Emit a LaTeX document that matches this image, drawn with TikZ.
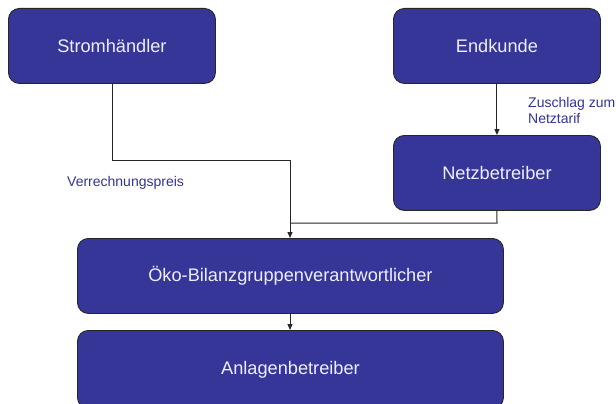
\documentclass[tikz,border=0pt]{standalone}
\usepackage{fontspec}
\setmainfont{Liberation Sans}
\usetikzlibrary{arrows.meta}
\definecolor{boxblue}{RGB}{54,54,152}
\definecolor{boxtext}{RGB}{238,238,255}
\definecolor{labelblue}{RGB}{51,51,153}
\tikzset{
  actor/.style={draw=black!85, line width=0.9pt, fill=boxblue, rounded corners=11pt,
    text=boxtext, font=\fontsize{18.2}{20}\selectfont, anchor=north west, inner sep=0pt,
    align=center},
  flow/.style={draw=black!85, line width=1pt},
  flowarrow/.style={flow, -{Triangle[length=6pt,width=5pt]}},
  lbl/.style={text=labelblue, font=\fontsize{14}{16}\selectfont, inner sep=0pt, align=left}
}
\begin{document}
\begin{tikzpicture}[x=1pt,y=-1pt]
\useasboundingbox (0,0) rectangle (616,404);
\node[actor, minimum width=207pt, minimum height=75pt] (strom) at (8,8) {Stromhändler};
\node[actor, minimum width=207pt, minimum height=75pt] (end) at (393,8) {Endkunde};
\node[actor, minimum width=207pt, minimum height=75pt] (netz) at (393,135) {Netzbetreiber};
\node[actor, minimum width=426pt, minimum height=75pt] (oeko) at (77,238) {Öko-Bilanzgruppenverantwortlicher};
\node[actor, minimum width=426pt, minimum height=78pt] (anl) at (77,330) {Anlagenbetreiber};
\coordinate (j1) at (112,160);
\coordinate (j2) at (290,160);
\coordinate (j3) at (497,223);
\coordinate (j4) at (290,223);
\draw[flowarrow] (strom.south -| j1) -- (j1) -- (j2) -- (oeko.north -| j2);
\draw[flow] (netz.south) -- (j3) -- (j4);
\draw[flowarrow] (end.south) -- (netz.north);
\draw[flowarrow] (oeko.south -| j2) -- (anl.north -| j2);
\node[lbl, anchor=base west] (vp) at (67,186) {Verrechnungspreis};
\node[lbl, anchor=base west] (zz) at (528,123) {Zuschlag zum\\Netztarif};
\end{tikzpicture}
\end{document}
